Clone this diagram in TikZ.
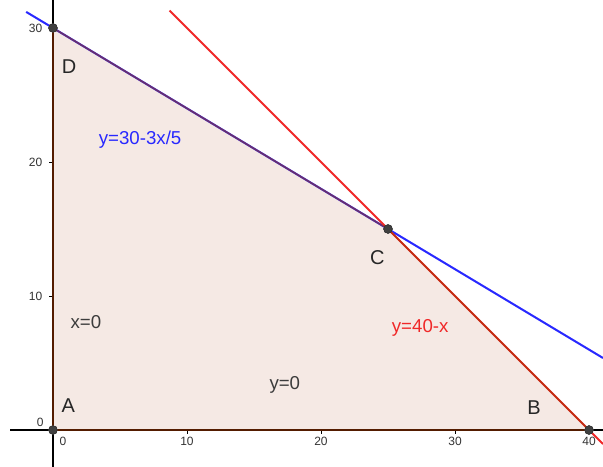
\documentclass[tikz,border=0pt]{standalone}
\usepackage{fontspec}
\setmainfont{Liberation Sans}
\definecolor{polyfill}{RGB}{245,233,228}
\definecolor{polyedge}{RGB}{153,51,0}
\definecolor{blueline}{RGB}{40,40,255}
\definecolor{redline}{RGB}{240,40,40}
\definecolor{ptfill}{RGB}{64,64,64}
\definecolor{eqgray}{RGB}{60,60,60}
\begin{document}
\begin{tikzpicture}[x=10.05pt,y=10.05pt,
  axis/.style={black,line width=0.9pt},
  tick/.style={black,line width=0.6pt},
  ticklab/.style={font=\fontsize{9}{10}\selectfont,text=black!80},
  constr/.style={line width=1.5pt},
  edge/.style={polyedge,opacity=0.55,line width=1.3pt},
  vertex/.style={circle,fill=ptfill,draw=black!80,line width=0.4pt,inner sep=0pt,minimum size=6.5pt},
  ptlab/.style={font=\fontsize{15}{17}\selectfont,text=black!85},
  eqlab/.style={font=\fontsize{14}{16}\selectfont}]
\useasboundingbox (-3.955,-2.761) rectangle (41.045,32.09);
\fill[white] (-3.955,-2.761) rectangle (41.045,32.09);
% feasible region
\fill[polyfill] (0,0) -- (40,0) -- (25,15) -- (0,30) -- cycle;
% axes
\coordinate (xl) at (-3.2,0);
\coordinate (xr) at (41.045,0);
\coordinate (yb) at (0,-2.761);
\coordinate (yt) at (0,32.09);
\draw[axis] (xl) -- (xr);
\draw[axis] (yb) -- (yt);
% ticks and labels
\foreach \v in {10,20,30,40} {
  \draw[tick] (\v,0) -- (\v,-0.3);
  \node[ticklab] at (\v,-0.85) {\v};
}
\node[ticklab] at (0.75,-0.85) {0};
\foreach \v in {10,20,30} {
  \draw[tick] (0,\v) -- (-0.3,\v);
  \node[ticklab,anchor=east] at (-0.45,\v) {\v};
}
\node[ticklab] at (-0.95,0.6) {0};
% constraint lines
\coordinate (b1) at (-2,31.2);
\coordinate (b2) at (41.045,5.373);
\coordinate (r1) at (8.7,31.3);
\coordinate (r2) at (41.045,-1.045);
\draw[constr,blueline] (b1) -- (b2);
\draw[constr,redline] (r1) -- (r2);
% vertices
\node[vertex] (A) at (0,0) {};
\node[vertex] (B) at (40,0) {};
\node[vertex] (C) at (25,15) {};
\node[vertex] (D) at (0,30) {};
% polygon edges
\draw[edge] (A.center) -- (B.center);
\draw[edge] (B.center) -- (C.center);
\draw[edge] (C.center) -- (D.center);
\draw[edge] (D.center) -- (A.center);
% redraw vertices on top
\node[vertex] at (A) {};
\node[vertex] at (B) {};
\node[vertex] at (C) {};
\node[vertex] at (D) {};
% vertex labels
\node[ptlab] (lA) at (1.15,1.8) {A};
\node[ptlab] (lB) at (35.9,1.65) {B};
\node[ptlab] (lC) at (24.2,12.9) {C};
\node[ptlab] (lD) at (1.2,27.15) {D};
% equation labels
\node[eqlab,text=blueline] (eb) at (6.5,21.7) {y=30-3x/5};
\node[eqlab,text=redline] (er) at (27.4,7.65) {y=40-x};
\node[eqlab,text=eqgray] (ex) at (2.45,8.05) {x=0};
\node[eqlab,text=eqgray] (ey) at (17.3,3.4) {y=0};
\end{tikzpicture}
\end{document}
